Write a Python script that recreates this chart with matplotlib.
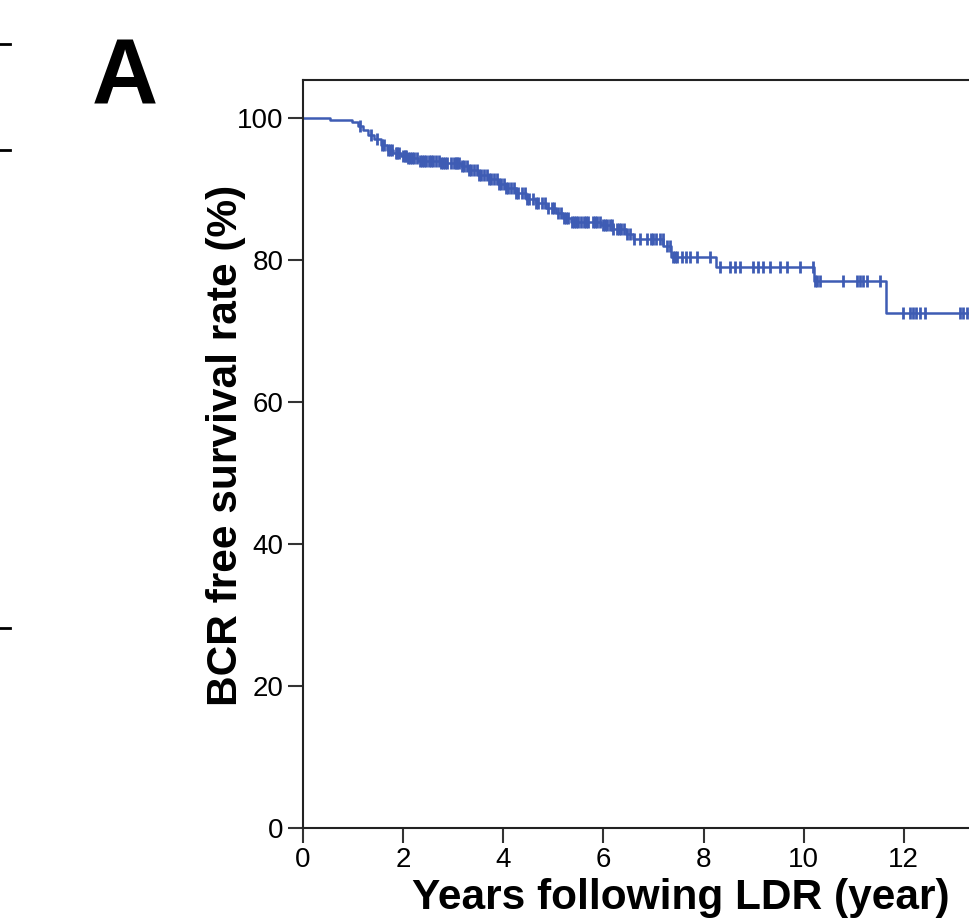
import numpy as np
import matplotlib
matplotlib.use("Agg")
import matplotlib.pyplot as plt
from matplotlib.lines import Line2D

plt.rcParams['font.family'] = ['Liberation Sans', 'DejaVu Sans']

# Kaplan-Meier steps: time of event (years), survival after it (%)
event_times = [0.54, 0.98, 1.10, 1.20, 1.30, 1.42, 1.55, 1.68, 1.80, 1.95,
               2.10, 2.30, 2.75, 3.15, 3.30, 3.50, 3.70, 3.90, 4.05, 4.25,
               4.45, 4.65, 4.85, 5.05, 5.20, 5.35, 5.95, 6.20, 6.45, 6.60,
               7.20, 7.35, 8.25, 10.20, 11.65]
event_surv = [99.7, 99.4, 98.9, 98.3, 97.6, 97.0, 96.2, 95.5, 95.1, 94.7,
              94.3, 94.0, 93.7, 93.3, 92.7, 92.0, 91.4, 90.7, 90.1, 89.4,
              88.6, 88.0, 87.3, 86.6, 85.9, 85.4, 84.9, 84.3, 83.7, 82.9,
              81.9, 80.4, 79.0, 77.0, 72.5]
last_time = 13.4

# censored observations (years)
censor_times = [1.14, 1.35, 1.48, 1.58, 1.62, 1.70, 1.74, 1.78, 1.85, 1.88,
                1.92, 2.00, 2.03, 2.06, 2.10, 2.14, 2.18, 2.22, 2.28, 2.33,
                2.38, 2.42, 2.45, 2.52, 2.56, 2.60, 2.66, 2.72, 2.76, 2.80,
                2.84, 2.88, 2.95, 3.02, 3.05, 3.08, 3.12, 3.18, 3.22, 3.28,
                3.32, 3.36, 3.42, 3.48, 3.52, 3.56, 3.62, 3.68, 3.72, 3.76,
                3.82, 3.88, 3.92, 3.95, 4.02, 4.06, 4.10, 4.16, 4.22, 4.26,
                4.30, 4.38, 4.44, 4.48, 4.52, 4.60, 4.66, 4.70, 4.78, 4.84,
                4.90, 4.98, 5.02, 5.10, 5.16, 5.22, 5.25, 5.30, 5.38, 5.42,
                5.46, 5.50, 5.56, 5.62, 5.66, 5.70, 5.80, 5.84, 5.88, 5.93,
                6.00, 6.04, 6.07, 6.13, 6.17, 6.20, 6.28, 6.32, 6.35, 6.42,
                6.47, 6.53, 6.62, 6.73, 6.87, 6.95, 7.00, 7.05, 7.13, 7.19,
                7.27, 7.33, 7.39, 7.44, 7.48, 7.56, 7.64, 7.73, 7.87, 8.13,
                8.33, 8.53, 8.62, 8.73, 8.99, 9.08, 9.19, 9.33, 9.52, 9.66,
                9.92, 10.18, 10.22, 10.26, 10.32, 10.78, 11.06, 11.12, 11.18,
                11.26, 11.52, 11.98, 12.12, 12.18, 12.24, 12.32, 12.42, 13.12,
                13.18, 13.26]

x_ticks = [0, 2, 4, 6, 8, 10, 12]
y_ticks = [0, 20, 40, 60, 80, 100]

blue = "#3e5cb4"

fig = plt.figure(figsize=(9.70, 9.18), dpi=100)
ax = fig.add_axes([303 / 970, 1 - 828 / 918, 756 / 970, 748 / 918])

# step curve
t = np.concatenate([[0.0], event_times, [last_time]])
s = np.concatenate([[100.0], event_surv, [event_surv[-1]]])
ax.step(t, s, where="post", color=blue, lw=1.8)

# censor marks sit on the curve
ct = np.array(censor_times)
idx = np.searchsorted(event_times, ct, side="right")
cs = np.concatenate([[100.0], event_surv])[idx]
ax.plot(ct, cs, ls="none", marker="|", ms=9, mew=2.0, color=blue)

ax.set_xlim(0, 15.1)
ax.set_ylim(0, 105.35)
ax.set_xticks(x_ticks)
ax.set_yticks(y_ticks)
ax.tick_params(labelsize=20, length=11, width=1.5, color="#333333", pad=3)
for sp in ax.spines.values():
    sp.set_linewidth(1.5)
    sp.set_color("#222222")

ax.set_xlabel("Years following LDR (year)", fontsize=30.5, fontweight="bold")
ax.set_ylabel("BCR free survival rate (%)", fontsize=30.5, fontweight="bold")
ax.xaxis.set_label_coords(0.5, (828 - 878) / 748)
ax.yaxis.set_label_coords((246 - 303) / 756, (828 - 445) / 748)

fig.text(92 / 970, 1 - 103 / 918, "A", fontsize=66, fontweight="bold", ha="left", va="baseline")

# tick stubs of the neighbouring panel at the left edge
for yy in [44, 150, 628]:
    fig.add_artist(Line2D([0, 10 / 970], [1 - yy / 918, 1 - yy / 918], color="black", lw=2))

fig.savefig("out.png", dpi=100)
